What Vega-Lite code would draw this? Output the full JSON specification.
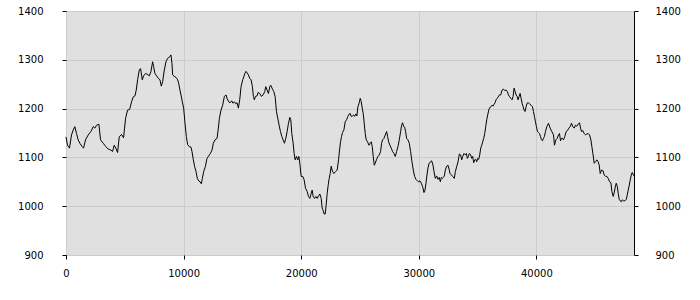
{
"$schema": "https://vega.github.io/schema/vega-lite/v6.json",
"width": 568, "height": 244,
"autosize": {"type": "none"},
"padding": {"left": 66, "top": 11, "right": 66, "bottom": 45},
"background": "white",
"config": {
 "view": {"fill": "#e0e0e0", "stroke": "#000000", "strokeWidth": 1},
 "axis": {"domain": false, "tickColor": "#000000", "tickSize": 4, "tickWidth": 1, "labelFont": "DejaVu Sans", "labelFontSize": 10, "labelColor": "#000000", "gridColor": "#cccccc", "gridWidth": 1, "title": null, "labelFlush": false, "labelOverlap": false}
},
"data": {"values": [
{"t":0,"v":1142},{"t":128,"v":1125},{"t":298,"v":1119},{"t":468,"v":1146},{"t":610,"v":1156},{"t":752,"v":1163},{"t":894,"v":1149},{"t":1036,"v":1136},{"t":1178,"v":1129},{"t":1377,"v":1122},{"t":1490,"v":1119},{"t":1660,"v":1136},{"t":1887,"v":1146},{"t":2114,"v":1153},{"t":2313,"v":1163},{"t":2455,"v":1160},{"t":2597,"v":1166},{"t":2796,"v":1168},{"t":2937,"v":1136},{"t":3164,"v":1129},{"t":3392,"v":1122},{"t":3590,"v":1117},{"t":3817,"v":1115},{"t":3959,"v":1112},{"t":4101,"v":1125},{"t":4243,"v":1119},{"t":4385,"v":1110},{"t":4527,"v":1142},{"t":4725,"v":1147},{"t":4896,"v":1140},{"t":5066,"v":1180},{"t":5236,"v":1197},{"t":5407,"v":1198},{"t":5577,"v":1214},{"t":5719,"v":1224},{"t":5861,"v":1226},{"t":5974,"v":1238},{"t":6088,"v":1259},{"t":6230,"v":1279},{"t":6343,"v":1282},{"t":6485,"v":1259},{"t":6599,"v":1267},{"t":6769,"v":1272},{"t":6939,"v":1270},{"t":7081,"v":1267},{"t":7223,"v":1276},{"t":7365,"v":1296},{"t":7450,"v":1286},{"t":7564,"v":1272},{"t":7706,"v":1267},{"t":7847,"v":1262},{"t":7989,"v":1259},{"t":8103,"v":1246},{"t":8217,"v":1255},{"t":8359,"v":1279},{"t":8501,"v":1296},{"t":8642,"v":1303},{"t":8813,"v":1306},{"t":8926,"v":1310},{"t":9011,"v":1293},{"t":9068,"v":1269},{"t":9210,"v":1266},{"t":9352,"v":1264},{"t":9494,"v":1259},{"t":9579,"v":1252},{"t":9692,"v":1238},{"t":9778,"v":1228},{"t":9891,"v":1214},{"t":10005,"v":1201},{"t":10118,"v":1170},{"t":10232,"v":1143},{"t":10345,"v":1126},{"t":10487,"v":1122},{"t":10629,"v":1121},{"t":10714,"v":1112},{"t":10828,"v":1095},{"t":10941,"v":1081},{"t":11055,"v":1071},{"t":11168,"v":1057},{"t":11282,"v":1052},{"t":11395,"v":1050},{"t":11509,"v":1046},{"t":11594,"v":1057},{"t":11707,"v":1071},{"t":11849,"v":1081},{"t":11991,"v":1098},{"t":12133,"v":1103},{"t":12275,"v":1108},{"t":12417,"v":1115},{"t":12530,"v":1129},{"t":12672,"v":1136},{"t":12843,"v":1139},{"t":12956,"v":1160},{"t":13041,"v":1180},{"t":13183,"v":1197},{"t":13325,"v":1207},{"t":13467,"v":1225},{"t":13609,"v":1228},{"t":13694,"v":1221},{"t":13836,"v":1214},{"t":13949,"v":1212},{"t":14091,"v":1216},{"t":14205,"v":1211},{"t":14318,"v":1214},{"t":14432,"v":1210},{"t":14545,"v":1212},{"t":14659,"v":1201},{"t":14772,"v":1218},{"t":14886,"v":1245},{"t":15028,"v":1259},{"t":15170,"v":1269},{"t":15283,"v":1276},{"t":15397,"v":1274},{"t":15510,"v":1269},{"t":15624,"v":1262},{"t":15737,"v":1259},{"t":15851,"v":1245},{"t":15936,"v":1225},{"t":16021,"v":1218},{"t":16106,"v":1225},{"t":16248,"v":1226},{"t":16335,"v":1233},{"t":16476,"v":1231},{"t":16618,"v":1225},{"t":16760,"v":1228},{"t":16902,"v":1235},{"t":16987,"v":1245},{"t":17101,"v":1238},{"t":17214,"v":1231},{"t":17328,"v":1245},{"t":17413,"v":1248},{"t":17555,"v":1240},{"t":17668,"v":1235},{"t":17782,"v":1225},{"t":17896,"v":1194},{"t":18009,"v":1180},{"t":18123,"v":1166},{"t":18236,"v":1153},{"t":18350,"v":1143},{"t":18463,"v":1136},{"t":18577,"v":1129},{"t":18690,"v":1139},{"t":18804,"v":1153},{"t":18918,"v":1170},{"t":19031,"v":1182},{"t":19116,"v":1177},{"t":19201,"v":1149},{"t":19315,"v":1129},{"t":19400,"v":1108},{"t":19485,"v":1095},{"t":19599,"v":1102},{"t":19712,"v":1095},{"t":19797,"v":1102},{"t":19882,"v":1088},{"t":19996,"v":1061},{"t":20138,"v":1061},{"t":20251,"v":1054},{"t":20365,"v":1037},{"t":20507,"v":1030},{"t":20620,"v":1020},{"t":20734,"v":1016},{"t":20847,"v":1026},{"t":20933,"v":1033},{"t":21018,"v":1020},{"t":21131,"v":1016},{"t":21245,"v":1020},{"t":21358,"v":1016},{"t":21472,"v":1021},{"t":21585,"v":1025},{"t":21699,"v":1016},{"t":21784,"v":996},{"t":21869,"v":991},{"t":21954,"v":984},{"t":22039,"v":984},{"t":22124,"v":1003},{"t":22210,"v":1026},{"t":22295,"v":1043},{"t":22380,"v":1057},{"t":22465,"v":1067},{"t":22550,"v":1082},{"t":22664,"v":1071},{"t":22777,"v":1067},{"t":22919,"v":1071},{"t":23061,"v":1074},{"t":23175,"v":1095},{"t":23260,"v":1115},{"t":23345,"v":1132},{"t":23430,"v":1143},{"t":23515,"v":1151},{"t":23629,"v":1156},{"t":23742,"v":1173},{"t":23856,"v":1177},{"t":23969,"v":1184},{"t":24083,"v":1189},{"t":24168,"v":1190},{"t":24253,"v":1184},{"t":24366,"v":1185},{"t":24451,"v":1187},{"t":24537,"v":1184},{"t":24651,"v":1189},{"t":24736,"v":1185},{"t":24821,"v":1204},{"t":24935,"v":1212},{"t":25020,"v":1221},{"t":25105,"v":1214},{"t":25190,"v":1201},{"t":25275,"v":1190},{"t":25360,"v":1170},{"t":25445,"v":1149},{"t":25531,"v":1136},{"t":25644,"v":1132},{"t":25758,"v":1125},{"t":25871,"v":1129},{"t":25956,"v":1132},{"t":26041,"v":1122},{"t":26127,"v":1102},{"t":26212,"v":1084},{"t":26297,"v":1088},{"t":26410,"v":1096},{"t":26524,"v":1102},{"t":26637,"v":1105},{"t":26751,"v":1112},{"t":26836,"v":1129},{"t":26921,"v":1136},{"t":27035,"v":1139},{"t":27148,"v":1146},{"t":27262,"v":1153},{"t":27347,"v":1143},{"t":27432,"v":1132},{"t":27546,"v":1125},{"t":27659,"v":1119},{"t":27773,"v":1112},{"t":27886,"v":1108},{"t":28000,"v":1102},{"t":28113,"v":1112},{"t":28227,"v":1122},{"t":28340,"v":1136},{"t":28454,"v":1153},{"t":28539,"v":1166},{"t":28624,"v":1171},{"t":28709,"v":1163},{"t":28794,"v":1162},{"t":28879,"v":1153},{"t":28965,"v":1139},{"t":29078,"v":1136},{"t":29192,"v":1129},{"t":29305,"v":1112},{"t":29419,"v":1091},{"t":29532,"v":1074},{"t":29646,"v":1061},{"t":29759,"v":1055},{"t":29873,"v":1052},{"t":29986,"v":1050},{"t":30100,"v":1052},{"t":30213,"v":1047},{"t":30327,"v":1040},{"t":30440,"v":1028},{"t":30525,"v":1033},{"t":30611,"v":1047},{"t":30696,"v":1064},{"t":30781,"v":1078},{"t":30866,"v":1087},{"t":30980,"v":1091},{"t":31093,"v":1093},{"t":31207,"v":1084},{"t":31292,"v":1071},{"t":31405,"v":1057},{"t":31519,"v":1062},{"t":31632,"v":1055},{"t":31746,"v":1059},{"t":31831,"v":1050},{"t":31916,"v":1059},{"t":32001,"v":1057},{"t":32086,"v":1059},{"t":32172,"v":1062},{"t":32257,"v":1074},{"t":32370,"v":1082},{"t":32484,"v":1084},{"t":32597,"v":1074},{"t":32655,"v":1067},{"t":32768,"v":1064},{"t":32882,"v":1061},{"t":33024,"v":1057},{"t":33109,"v":1071},{"t":33222,"v":1081},{"t":33336,"v":1091},{"t":33449,"v":1107},{"t":33563,"v":1105},{"t":33648,"v":1095},{"t":33733,"v":1102},{"t":33847,"v":1108},{"t":33960,"v":1105},{"t":34045,"v":1108},{"t":34130,"v":1098},{"t":34215,"v":1102},{"t":34301,"v":1108},{"t":34414,"v":1105},{"t":34499,"v":1098},{"t":34584,"v":1102},{"t":34670,"v":1089},{"t":34755,"v":1095},{"t":34840,"v":1096},{"t":34925,"v":1091},{"t":35010,"v":1098},{"t":35095,"v":1096},{"t":35180,"v":1105},{"t":35266,"v":1119},{"t":35351,"v":1125},{"t":35436,"v":1132},{"t":35521,"v":1139},{"t":35606,"v":1149},{"t":35691,"v":1163},{"t":35776,"v":1177},{"t":35862,"v":1187},{"t":35947,"v":1197},{"t":36032,"v":1202},{"t":36145,"v":1204},{"t":36230,"v":1207},{"t":36316,"v":1205},{"t":36401,"v":1209},{"t":36486,"v":1212},{"t":36571,"v":1218},{"t":36656,"v":1221},{"t":36741,"v":1223},{"t":36855,"v":1228},{"t":36968,"v":1228},{"t":37082,"v":1238},{"t":37196,"v":1240},{"t":37309,"v":1237},{"t":37423,"v":1238},{"t":37536,"v":1235},{"t":37621,"v":1228},{"t":37706,"v":1225},{"t":37820,"v":1221},{"t":37933,"v":1218},{"t":38018,"v":1225},{"t":38104,"v":1242},{"t":38189,"v":1235},{"t":38274,"v":1228},{"t":38359,"v":1225},{"t":38444,"v":1218},{"t":38529,"v":1225},{"t":38614,"v":1231},{"t":38700,"v":1221},{"t":38785,"v":1211},{"t":38870,"v":1204},{"t":38955,"v":1197},{"t":39040,"v":1194},{"t":39125,"v":1204},{"t":39210,"v":1211},{"t":39324,"v":1212},{"t":39437,"v":1209},{"t":39551,"v":1207},{"t":39664,"v":1204},{"t":39750,"v":1194},{"t":39835,"v":1184},{"t":39920,"v":1173},{"t":40005,"v":1163},{"t":40090,"v":1153},{"t":40175,"v":1151},{"t":40260,"v":1149},{"t":40346,"v":1143},{"t":40431,"v":1136},{"t":40516,"v":1134},{"t":40601,"v":1139},{"t":40686,"v":1143},{"t":40771,"v":1153},{"t":40887,"v":1163},{"t":41029,"v":1170},{"t":41170,"v":1160},{"t":41312,"v":1153},{"t":41454,"v":1146},{"t":41539,"v":1125},{"t":41653,"v":1136},{"t":41766,"v":1139},{"t":41880,"v":1146},{"t":41965,"v":1149},{"t":42050,"v":1134},{"t":42135,"v":1139},{"t":42220,"v":1139},{"t":42306,"v":1136},{"t":42419,"v":1143},{"t":42533,"v":1153},{"t":42646,"v":1155},{"t":42760,"v":1160},{"t":42873,"v":1163},{"t":42987,"v":1170},{"t":43100,"v":1163},{"t":43214,"v":1160},{"t":43327,"v":1166},{"t":43441,"v":1164},{"t":43554,"v":1168},{"t":43668,"v":1171},{"t":43753,"v":1160},{"t":43838,"v":1153},{"t":43952,"v":1155},{"t":44065,"v":1149},{"t":44179,"v":1146},{"t":44292,"v":1148},{"t":44406,"v":1149},{"t":44519,"v":1146},{"t":44633,"v":1136},{"t":44718,"v":1122},{"t":44803,"v":1108},{"t":44917,"v":1088},{"t":45030,"v":1091},{"t":45144,"v":1095},{"t":45257,"v":1091},{"t":45342,"v":1084},{"t":45427,"v":1067},{"t":45541,"v":1074},{"t":45655,"v":1073},{"t":45768,"v":1064},{"t":45882,"v":1061},{"t":45995,"v":1061},{"t":46109,"v":1057},{"t":46222,"v":1050},{"t":46336,"v":1048},{"t":46421,"v":1030},{"t":46534,"v":1020},{"t":46619,"v":1028},{"t":46705,"v":1039},{"t":46790,"v":1047},{"t":46875,"v":1041},{"t":46960,"v":1026},{"t":47045,"v":1014},{"t":47130,"v":1011},{"t":47215,"v":1009},{"t":47300,"v":1013},{"t":47414,"v":1011},{"t":47528,"v":1011},{"t":47641,"v":1014},{"t":47726,"v":1023},{"t":47811,"v":1033},{"t":47896,"v":1043},{"t":47982,"v":1054},{"t":48067,"v":1064},{"t":48152,"v":1069},{"t":48300,"v":1062}
]},
"layer": [
 {"mark": {"type": "line", "color": "#000000", "strokeWidth": 1, "opacity": 0},
  "encoding": {
   "x": {"field": "t", "type": "quantitative", "scale": {"domain": [0, 48300], "nice": false, "zero": false}, "axis": {"orient": "bottom", "grid": true, "values": [0, 10000, 20000, 30000, 40000], "format": "d", "labelPadding": 9}},
   "y": {"field": "v", "type": "quantitative", "scale": {"domain": [900, 1400], "nice": false, "zero": false}, "axis": {"orient": "right", "grid": false, "values": [900, 1000, 1100, 1200, 1300, 1400], "format": "d", "labelPadding": 17}}
  }},
 {"mark": {"type": "line", "color": "#000000", "strokeWidth": 1},
  "encoding": {
   "x": {"field": "t", "type": "quantitative", "scale": {"domain": [0, 48300], "nice": false, "zero": false}, "axis": {"orient": "bottom", "grid": true, "values": [0, 10000, 20000, 30000, 40000], "format": "d", "labelPadding": 9}},
   "y": {"field": "v", "type": "quantitative", "scale": {"domain": [900, 1400], "nice": false, "zero": false}, "axis": {"orient": "left", "grid": true, "values": [900, 1000, 1100, 1200, 1300, 1400], "format": "d", "labelPadding": 19}}
  }}
],
"resolve": {"axis": {"y": "independent"}}
}
